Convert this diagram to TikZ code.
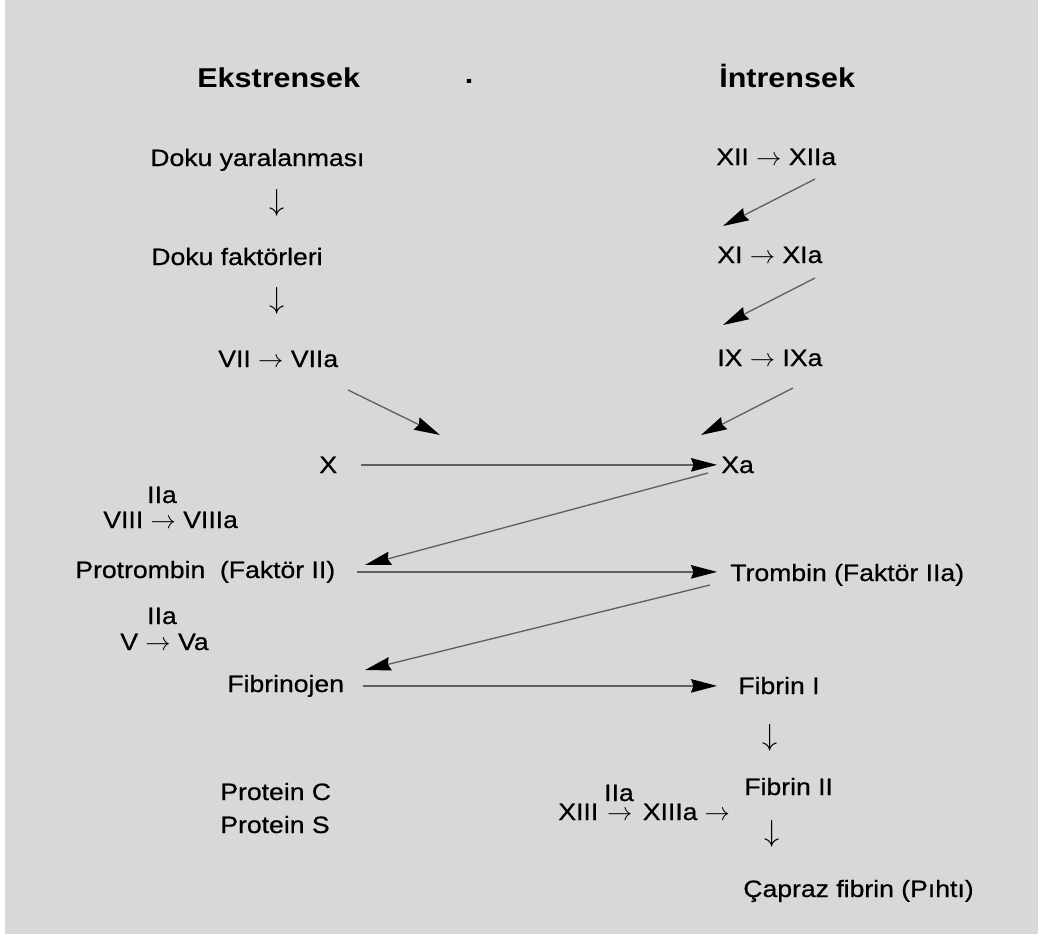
\documentclass[tikz,border=0pt]{standalone}
\usepackage{fontspec}
\setmainfont{Liberation Sans}[FakeStretch=1.12,UprightFeatures={FakeBold=0.6}]
\usetikzlibrary{arrows.meta,calc}
\definecolor{bg}{RGB}{216,216,216}
\definecolor{ln}{RGB}{95,95,95}
\begin{document}
\begin{tikzpicture}[x=0.02cm,y=-0.02cm,
  lbl/.style={inner sep=0pt,anchor=base west,font=\fontsize{13.5}{16}\selectfont},
  clbl/.style={inner sep=0pt,anchor=base,font=\fontsize{13.5}{16}\selectfont},
  hdr/.style={inner sep=0pt,anchor=base west,font=\fontsize{15.5}{18}\selectfont\bfseries},
  dn/.style={inner sep=0pt,font=\fontsize{19}{22}\selectfont},
  conn/.style={draw=ln,line width=0.75pt,-{Stealth[length=0.52cm,width=0.27cm,inset=0.05cm,color=black]}}]
\useasboundingbox (0,0) rectangle (1038,937);
\fill[white] (0,0) rectangle (1038,937);
\fill[bg] (5,0) rectangle (1038,934);

% headers
\node[hdr] (ek) at (197,87) {Ekstrensek};
\node[inner sep=0pt,anchor=base,font=\fontsize{15.5}{18}\selectfont\bfseries] (dot) at (469,83) {.};
\node[hdr] (in) at (719,87) {İntrensek};

% extrinsic column
\node[lbl] (dy) at (150,166) {Doku yaralanması};
\node[dn] (d1) at (277,203) {$\downarrow$};
\node[lbl] (df) at (151,265) {Doku faktörleri};
\node[dn] (d2) at (277,301) {$\downarrow$};
\node[lbl] (vii) at (218,367) {VII $\rightarrow$ VIIa};

% intrinsic column
\node[lbl] (xii) at (716,165) {XII $\rightarrow$ XIIa};
\node[lbl] (xi) at (717,263) {XI $\rightarrow$ XIa};
\node[lbl] (ix) at (717,366) {IX $\rightarrow$ IXa};

% diagonal arrows of the upper part
\coordinate (a1s) at (815,179); \coordinate (a1e) at (723,226);
\coordinate (a2s) at (815,278); \coordinate (a2e) at (723,325);
\coordinate (a3s) at (793,388); \coordinate (a3e) at (701,435);
\coordinate (a4s) at (348,390); \coordinate (a4e) at (440,435);
\draw[conn] (a1s) -- (a1e);
\draw[conn] (a2s) -- (a2e);
\draw[conn] (a3s) -- (a3e);
\draw[conn] (a4s) -- (a4e);

% X row
\node[lbl] (x) at (319,473) {X};
\node[lbl] (xa) at (721,473) {Xa};
\draw[conn,shorten <=0.48cm,shorten >=0.08cm] (x.east) -- (x.east -| xa.west);

% VIII
\node[clbl] (iia1) at (162,503) {IIa};
\node[lbl] (viii) at (103,528) {VIII $\rightarrow$ VIIIa};

% Protrombin row
\node[lbl] (pro) at (75,578) {Protrombin\ \ (Faktör II)};
\node[lbl] (tro) at (730,581) {Trombin (Faktör IIa)};
\coordinate (a5s) at (708,473); \coordinate (a5e) at (365,565);
\draw[conn] (a5s) -- (a5e);
\draw[conn,shorten <=0.42cm,shorten >=0.26cm] (pro.east) -- (pro.east -| tro.west);

% V
\node[clbl] (iia2) at (162,624) {IIa};
\node[lbl] (v) at (120,650) {V $\rightarrow$ Va};

% Fibrinojen row
\node[lbl] (fbg) at (227,692) {Fibrinojen};
\node[lbl] (fb1) at (738,694) {Fibrin I};
\coordinate (a6s) at (710,585); \coordinate (a6e) at (365,670);
\draw[conn] (a6s) -- (a6e);
\draw[conn,shorten <=0.38cm,shorten >=0.42cm] (fbg.east) -- (fbg.east -| fb1.west);

\node[dn] (d3) at (770,738) {$\downarrow$};

% Protein C / S
\node[lbl] (pc) at (220,800) {Protein C};
\node[lbl] (ps) at (220,833) {Protein S};

% Fibrin II and XIII
\node[lbl] (fb2) at (744,795) {Fibrin II};
\node[lbl] (xiii) at (558,820) {XIII\hspace{5pt}$\rightarrow$\hspace{6pt}XIIIa\hspace{4pt}$\rightarrow$};
\node[clbl] (iia3) at (619,801) {IIa};
\node[dn] (d4) at (772,834) {$\downarrow$};

\node[lbl] (cf) at (743,897) {Çapraz fibrin (Pıhtı)};
\end{tikzpicture}
\end{document}
